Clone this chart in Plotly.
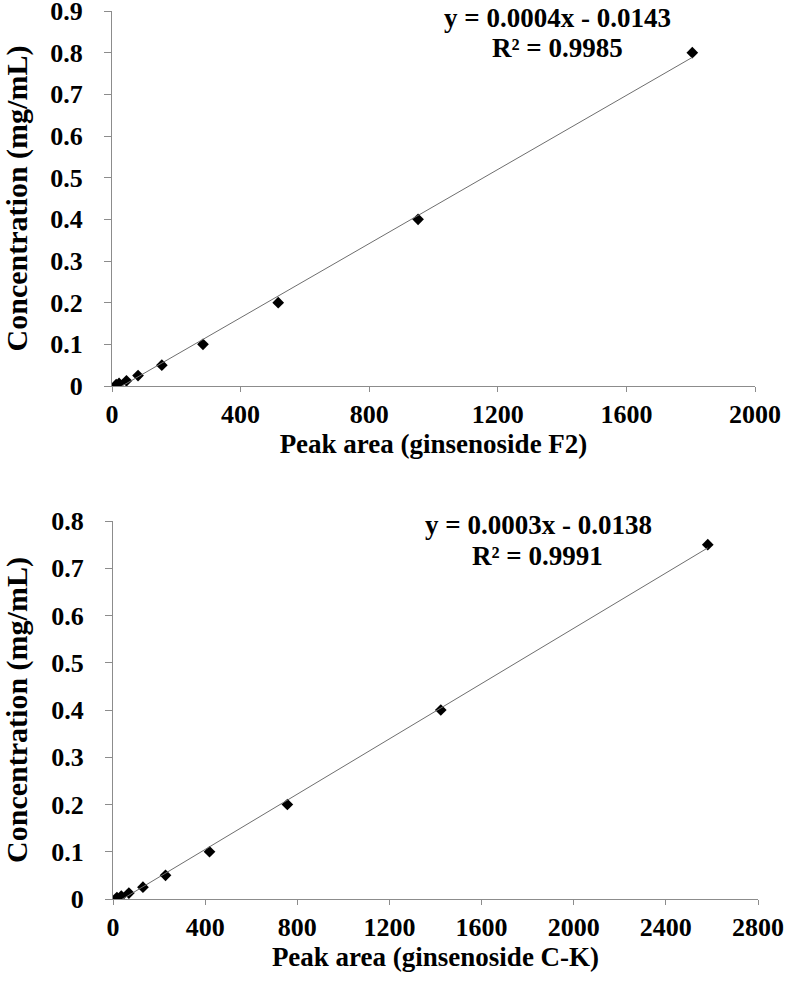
import numpy as np
import plotly.graph_objects as go

# ---- data ----
f2_area = [13, 22, 45, 81, 155, 283, 517, 952, 1805]
f2_conc = [0.003125, 0.00625, 0.0125, 0.025, 0.05, 0.1, 0.2, 0.4, 0.8]
ck_area = [17, 36, 69, 130, 228, 419, 757, 1423, 2582]
ck_conc = [0.003125, 0.00625, 0.0125, 0.025, 0.05, 0.1, 0.2, 0.4, 0.75]
f2_eq = ["y = 0.0004x - 0.0143", "R² = 0.9985"]
ck_eq = ["y = 0.0003x - 0.0138", "R² = 0.9991"]
f2_xticks = [0, 400, 800, 1200, 1600, 2000]
ck_xticks = [0, 400, 800, 1200, 1600, 2000, 2400, 2800]
f2_yticks = [0, 0.1, 0.2, 0.3, 0.4, 0.5, 0.6, 0.7, 0.8, 0.9]
ck_yticks = [0, 0.1, 0.2, 0.3, 0.4, 0.5, 0.6, 0.7, 0.8]

W, H = 791, 993
FONT = "Liberation Serif"
AXC = "#8c8c8c"

def px_x(p):
    return p / W

def px_y(p):
    return 1 - p / H

fig = go.Figure()

def add_panel(xs, ys, xa, ya):
    fig.add_trace(go.Scatter(x=xs, y=ys, mode="markers",
                             marker=dict(symbol="diamond", size=9, color="black"),
                             xaxis=xa, yaxis=ya, showlegend=False))
    k, b = np.polyfit(xs, ys, 1)
    lx = np.array([min(xs), max(xs)])
    fig.add_trace(go.Scatter(x=lx, y=k * lx + b, mode="lines",
                             line=dict(color="#6e6e6e", width=1),
                             xaxis=xa, yaxis=ya, showlegend=False))

add_panel(f2_area, f2_conc, "x", "y")
add_panel(ck_area, ck_conc, "x2", "y2")

xtickfont = dict(family=FONT, size=26, color="black", weight="bold")
ytickfont = dict(family=FONT, size=26, color="black", weight="bold")
xtitlefont = dict(family=FONT, size=27, color="black", weight="bold")
ytitlefont = dict(family=FONT, size=30, color="black", weight="bold")
eqfont = dict(family=FONT, size=27, color="black", weight="bold")

def xaxis(dom, rng, ticks, title, anchor):
    return dict(domain=dom, range=rng, tickvals=ticks, ticktext=[str(t) for t in ticks],
                showline=True, linecolor=AXC, linewidth=1, ticks="outside",
                tickcolor=AXC, ticklen=5, showgrid=False, zeroline=False,
                tickfont=xtickfont, anchor=anchor, ticklabelstandoff=0,
                automargin=False, ticklabeloverflow="allow",
                title=dict(text=title, font=xtitlefont, standoff=0))

def yaxis(dom, rng, ticks, anchor):
    return dict(domain=dom, range=rng, tickvals=ticks,
                ticktext=["0" if t == 0 else f"{t:.1f}" for t in ticks],
                showline=True, linecolor=AXC, linewidth=1, ticks="outside",
                tickcolor=AXC, ticklen=7, showgrid=False, zeroline=False,
                tickfont=ytickfont, anchor=anchor, ticklabelstandoff=16,
                automargin=False, ticklabeloverflow="allow",
                title=dict(text="Concentration (mg/mL)", font=ytitlefont, standoff=24))

fig.update_layout(
    width=W, height=H, margin=dict(l=0, r=0, t=0, b=0),
    paper_bgcolor="white", plot_bgcolor="white",
    xaxis=xaxis([px_x(112), px_x(755)], [0, 2000], f2_xticks,
                "Peak area (ginsenoside F2)", "y"),
    yaxis=yaxis([px_y(386), px_y(11)], [0, 0.9], f2_yticks, "x"),
    xaxis2=xaxis([px_x(113), px_x(758)], [0, 2800], ck_xticks,
                 "Peak area (ginsenoside C-K)", "y2"),
    yaxis2=yaxis([px_y(899), px_y(521)], [0, 0.8], ck_yticks, "x2"),
)

def eq(x, y, text):
    fig.add_annotation(x=px_x(x), y=px_y(y), xref="paper", yref="paper",
                       xanchor="center", yanchor="middle",
                       text=text, showarrow=False, font=eqfont)

eq(557, 18, f2_eq[0])
eq(557, 48, f2_eq[1])
eq(538, 525, ck_eq[0])
eq(537, 556, ck_eq[1])

# remove the default 8px page margin so the figure fills the window exactly
fig.write_html("out.html", config={"displayModeBar": False},
               post_script="document.body.style.margin='0px';")
